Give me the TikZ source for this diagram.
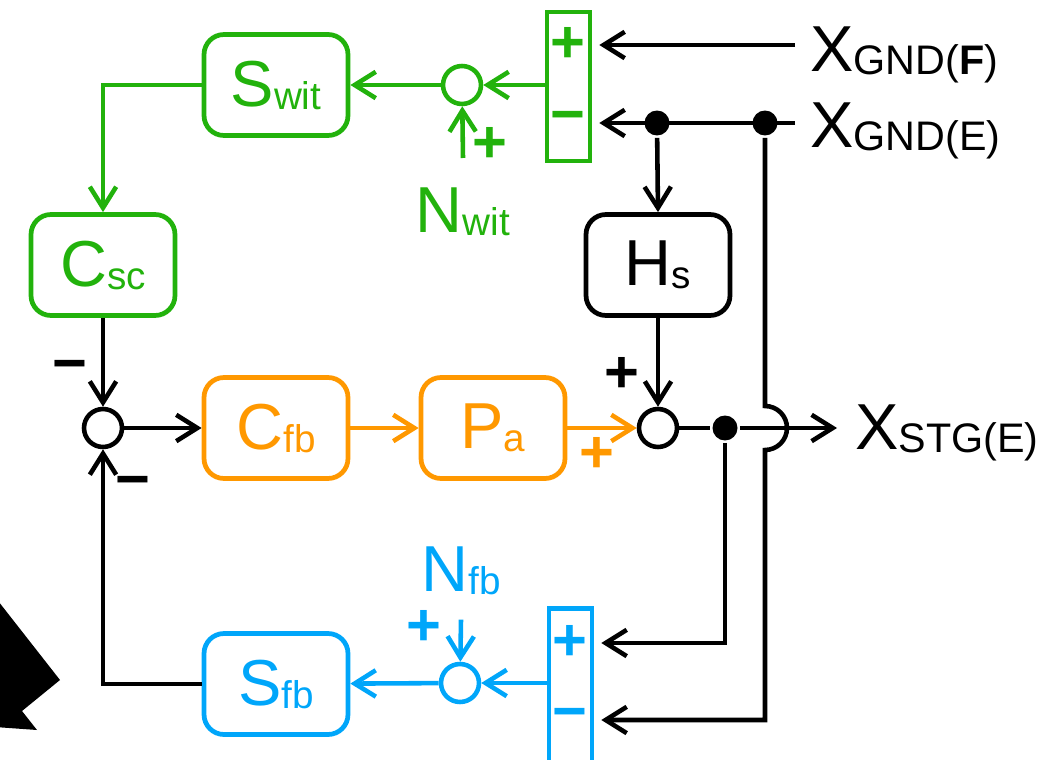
\documentclass[tikz,border=0pt]{standalone}
\usepackage{fontspec}
\setmainfont{Liberation Sans}
\usetikzlibrary{arrows.meta, positioning, calc}
\definecolor{witgreen}{RGB}{34,178,12}
\definecolor{fborange}{RGB}{255,152,0}
\definecolor{fbblue}{RGB}{0,166,250}
\newcommand{\lbl}[3][22]{#2\raisebox{-0.06cm}{\fontsize{#1}{#1}\selectfont #3}}

\begin{document}
\begin{tikzpicture}[x=0.02cm, y=-0.02cm, line width=2.6pt,
    >={Straight Barb[length=12pt,width=15pt]},
    blk/.style={draw, rounded corners=0.4cm, line width=2.7pt, minimum width=2.88cm,
      minimum height=2.02cm, inner sep=0pt, font=\fontsize{37}{37}\selectfont},
    sumc/.style={draw, circle, minimum size=0.76cm, inner sep=0pt},
    jdot/.style={fill, circle, minimum size=0.5cm, inner sep=0pt},
    pmbox/.style={draw, rectangle, line width=2.6pt, minimum width=0.86cm, inner sep=0pt},
    sgn/.style={font=\fontsize{34}{34}\bfseries, inner sep=0pt},
    sig/.style={font=\fontsize{37}{37}\selectfont, inner sep=0pt}]
    \useasboundingbox (0,0) rectangle (1048,760);
    \clip (0,0) rectangle (1048,760);

    % Cut-off arrow at the left edge
    \fill (-5,597) -- (60,680) -- (22,711) -- (37,730) -- (-5,727) -- cycle;

    % Blocks
    \node[blk, witgreen] (swit) at (276,85)  {\lbl{S}{wit}};
    \node[blk, witgreen] (csc)  at (103,265) {\lbl{C}{sc}};
    \node[blk, fborange] (cfb)  at (276,428) {\lbl{C}{fb}};
    \node[blk, fborange] (pa)   at (493,428) {\lbl{P}{a}};
    \node[blk]           (hs)   at (658,265) {\lbl{H}{s}};
    \node[blk, fbblue]   (sfb)  at (276,684) {\lbl{S}{fb}};

    % Summing points
    \node[sumc]           (ls) at (103,428) {};
    \node[sumc]           (rs) at (658,428) {};
    \node[sumc, witgreen] (gs) at (462,85)  {};
    \node[sumc, fbblue]   (bs) at (460,683) {};

    % Difference boxes
    \node[pmbox, witgreen, minimum height=2.98cm] (gbox) at (568.5,86.5) {};
    \node[sgn, witgreen] (gplus)  at (568,45)  {+};
    \node[sgn, witgreen] (gminus) at (568,123) {−};
    \node[pmbox, fbblue, minimum height=3.5cm] (bbox) at (570.5,696) {};
    \node[sgn, fbblue] (bplus)  at (570,643) {+};
    \node[sgn, fbblue] (bminus) at (570,720) {−};

    % Signals
    \node[sig, anchor=base west] (xf) at (808,72)  {\lbl[23.5]{X}{GND(\textbf{F})}};
    \node[sig, anchor=base west] (xe) at (808,148) {\lbl[23.5]{X}{GND(E)}};
    \node[sig, anchor=base west] (xs) at (853,449) {\lbl[23.5]{X}{STG(E)}};
    \node[sig, witgreen, anchor=base] (nwit) at (463,233) {\lbl{N}{wit}};
    \node[sig, fbblue, anchor=base]   (nfb)  at (461,591) {\lbl{N}{fb}};
    \coordinate (xfin)  at (795,45);
    \coordinate (xein)  at (795,123);
    \coordinate (xsout) at (837,428);
    \coordinate (jmp)   at (765,428);

    % Branch points
    \node[jdot] (d1) at (657,123) {};
    \node[jdot] (d2) at (765,123) {};
    \node[jdot] (d3) at (725,428) {};

    % Signs
    \node[sgn]           (mcsc) at (70,372)  {−};
    \node[sgn]           (mfb)  at (133,488) {−};
    \node[sgn]           (phs)  at (622,375) {+};
    \node[sgn, fborange] (ppa)  at (597,455) {+};
    \node[sgn, witgreen] (pwit) at (490,145) {+};
    \node[sgn, fbblue]   (pnfb) at (424,628) {+};

    % Main loop
    \draw[->] (csc.south) -- (ls.north);
    \draw[->] (ls) -- (cfb);
    \draw[->, fborange] (cfb) -- (pa);
    \draw[->, fborange] (pa) -- (rs);
    \draw[->] (hs.south) -- (rs.north);
    \draw (rs) -- (d3);
    \draw[->] (d3) -- (xsout);

    % Ground inputs
    \draw[->, shorten >=4pt] (xfin) -- (gplus -| gbox.east);
    \draw[->, shorten >=4pt] (xein) -- (gminus -| gbox.east);
    \draw[->] (d1) -- (hs.north);
    \draw[->, shorten >=4pt] (d2) -- ([yshift=0.44cm]jmp)
      arc[start angle=90, end angle=-90, radius=0.44cm]
      -- (jmp |- bminus) -- (bminus -| bbox.east);
    \draw[->, shorten >=4pt] (d3) -- (d3 |- bplus) -- (bplus -| bbox.east);

    % Witness path
    \draw[->, witgreen] (gbox.west |- gs) -- (gs);
    \draw[->, witgreen] (gs) -- (swit);
    \draw[->, witgreen] (swit.west) -- (csc |- swit) -- (csc.north);
    \draw[->, witgreen] ([yshift=0.56cm]nwit.north) -- (gs);

    % Feedback path
    \draw[->, fbblue] (bbox.west |- bs) -- (bs);
    \draw[->, fbblue] (bs) -- (sfb);
    \draw[->, fbblue] ([yshift=-0.46cm]nfb.south) -- (bs);
    \draw[->] (sfb.west) -- (ls |- sfb) -- (ls.south);
\end{tikzpicture}
\end{document}
